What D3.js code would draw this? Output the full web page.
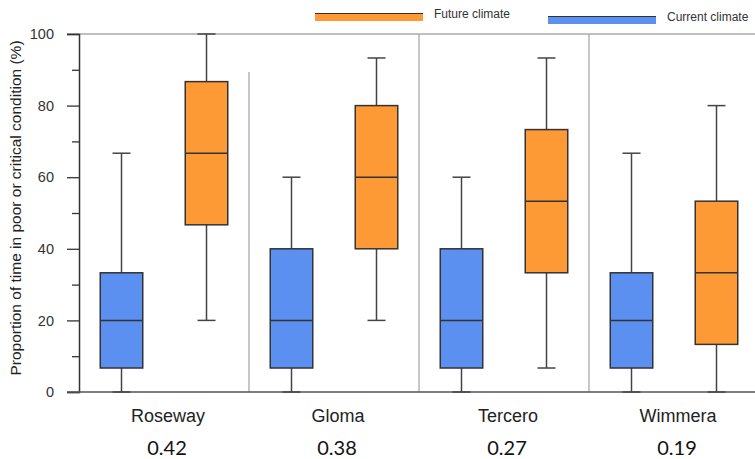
<!DOCTYPE html>
<html>
<head>
<meta charset="utf-8">
<script src="https://cdn.jsdelivr.net/npm/d3@7"></script>
<style>
  body { margin: 0; background: #fff; }
  svg { display: block; font-family: "Liberation Sans", Arial, sans-serif; }
</style>
</head>
<body>
<div class="canvas"></div>
<script>
// data: [min, q1, median, q3, max] per site
const sites = ['Roseway', 'Gloma', 'Tercero', 'Wimmera'];
const indexValues = ['0.42', '0.38', '0.27', '0.19'];
const currentStats = [
  [0, 6.7, 20, 33.3, 66.7],
  [0, 6.7, 20, 40, 60],
  [0, 6.7, 20, 40, 60],
  [0, 6.7, 20, 33.3, 66.7]
];
const futureStats = [
  [20, 46.7, 66.7, 86.7, 100],
  [20, 40, 60, 80, 93.3],
  [6.7, 33.3, 53.3, 73.3, 93.3],
  [0, 13.3, 33.3, 53.3, 80]
];
const series = ['current', 'future'];
const yTicks = [0, 20, 40, 60, 80, 100];
const yMinorTicks = [10, 30, 50, 70, 90];

const width = 755, height = 459;
const colors = { current: '#5b8ff0', future: '#fd9a36' };

const svg = d3.select('.canvas')
  .append('svg')
  .attr('width', width)
  .attr('height', height);

// scales
const x0 = d3.scaleBand()
  .domain(sites)
  .range([79, 759]);

const x1 = d3.scaleBand()
  .domain(series)
  .range([0, x0.bandwidth()])
  .paddingInner(0.5)
  .paddingOuter(0.25);

const y = d3.scaleLinear()
  .domain([0, 100])
  .range([392, 34]);

// top frame line
svg.append('line')
  .attr('x1', 67).attr('x2', width)
  .attr('y1', y(100)).attr('y2', y(100))
  .attr('stroke', '#aaa').attr('stroke-width', 1.5);

// separators between sites
sites.slice(1).forEach((s, i) => {
  svg.append('line')
    .attr('x1', x0(s)).attr('x2', x0(s))
    .attr('y1', i === 0 ? 72 : y(100)).attr('y2', y(0))
    .attr('stroke', '#b5b5b5').attr('stroke-width', 1.5);
});

// y axis, major ticks with labels then minor ticks
const yAxisGroup = svg.append('g')
  .attr('transform', 'translate(79,0)')
  .call(d3.axisLeft(y).tickValues(yTicks).tickSize(12).tickPadding(13).tickFormat(d3.format('d')));

svg.append('g')
  .attr('transform', 'translate(79,0)')
  .call(d3.axisLeft(y).tickValues(yMinorTicks).tickSize(7).tickFormat(''))
  .select('.domain').remove();

svg.selectAll('.tick line').attr('stroke', '#333').attr('stroke-width', 1.3);
yAxisGroup.select('.domain').attr('stroke', '#333').attr('stroke-width', 1.5);
yAxisGroup.selectAll('text')
  .attr('font-size', 14.5)
  .attr('fill', '#333')
  .attr('font-family', '"Liberation Sans", Arial, sans-serif');

// bottom axis line
svg.append('line')
  .attr('x1', 67).attr('x2', width)
  .attr('y1', y(0)).attr('y2', y(0))
  .attr('stroke', '#555').attr('stroke-width', 1.5);

// y title
svg.append('text')
  .attr('transform', `translate(21,${(y(0) + y(100)) / 2 - 5}) rotate(-90)`)
  .attr('text-anchor', 'middle')
  .attr('font-size', 15.5)
  .attr('fill', '#222')
  .text('Proportion of time in poor or critical condition (%)');

// boxes
const boxData = [];
sites.forEach((s, i) => {
  boxData.push({ site: s, key: 'current', v: currentStats[i] });
  boxData.push({ site: s, key: 'future', v: futureStats[i] });
});

const capW = 18;
const boxes = svg.selectAll('g.box')
  .data(boxData)
  .enter()
  .append('g')
  .attr('class', 'box')
  .attr('transform', d => `translate(${x0(d.site) + x1(d.key)},0)`);

const bw = x1.bandwidth();

// whisker stems
boxes.append('line')
  .attr('x1', bw / 2).attr('x2', bw / 2)
  .attr('y1', d => y(d.v[0])).attr('y2', d => y(d.v[4]))
  .attr('stroke', '#444').attr('stroke-width', 1.5);

// caps
[0, 4].forEach(k => {
  boxes.append('line')
    .attr('x1', bw / 2 - capW / 2).attr('x2', bw / 2 + capW / 2)
    .attr('y1', d => y(d.v[k])).attr('y2', d => y(d.v[k]))
    .attr('stroke', '#444').attr('stroke-width', 1.5);
});

boxes.append('rect')
  .attr('x', 0)
  .attr('width', bw)
  .attr('y', d => y(d.v[3]))
  .attr('height', d => y(d.v[1]) - y(d.v[3]))
  .attr('fill', d => colors[d.key])
  .attr('stroke', '#333')
  .attr('stroke-width', 1.5);

// medians
boxes.append('line')
  .attr('x1', 0).attr('x2', bw)
  .attr('y1', d => y(d.v[2])).attr('y2', d => y(d.v[2]))
  .attr('stroke', '#333').attr('stroke-width', 1.5);

// category labels and index values
svg.selectAll('text.site')
  .data(sites)
  .enter()
  .append('text')
  .attr('class', 'site')
  .attr('x', d => x0(d) + x0.bandwidth() / 2 + 4)
  .attr('y', 422)
  .attr('text-anchor', 'middle')
  .attr('font-size', 18)
  .attr('fill', '#222')
  .text(d => d);

svg.selectAll('text.idx')
  .data(indexValues)
  .enter()
  .append('text')
  .attr('class', 'idx')
  .attr('x', (d, i) => x0(sites[i]) + x0.bandwidth() / 2 + 3)
  .attr('y', 455)
  .attr('text-anchor', 'middle')
  .attr('font-size', 20)
  .attr('font-family', 'Lato, "Open Sans", sans-serif')
  .attr('fill', '#111')
  .text(d => d);

// legend
const legend = [
  { key: 'future', label: 'Future climate', x: 315, y: 13 },
  { key: 'current', label: 'Current climate', x: 548, y: 16 }
];
const lg = svg.selectAll('g.legend')
  .data(legend)
  .enter()
  .append('g')
  .attr('class', 'legend')
  .attr('transform', d => `translate(${d.x},${d.y})`);

lg.append('rect')
  .attr('width', 108).attr('height', 8)
  .attr('fill', d => colors[d.key]);
lg.append('line')
  .attr('x1', 0).attr('x2', 108)
  .attr('y1', 0.5).attr('y2', 0.5)
  .attr('stroke', '#333').attr('stroke-width', 1.2);
lg.append('text')
  .attr('x', 119)
  .attr('y', 5)
  .attr('font-size', 12)
  .attr('fill', '#333')
  .text(d => d.label);
</script>
</body>
</html>
